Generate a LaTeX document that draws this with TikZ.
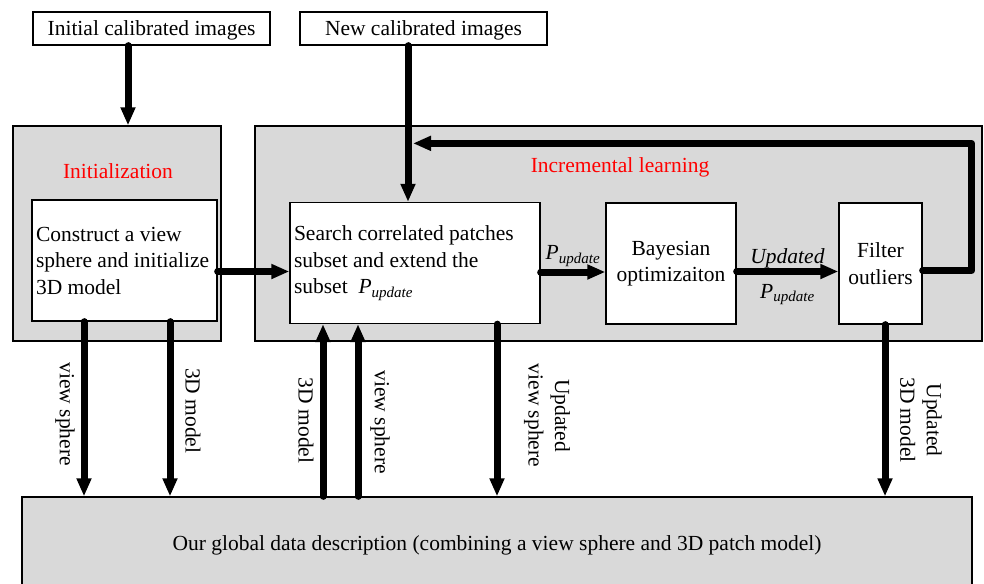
\documentclass[tikz,border=0pt]{standalone}
\usepackage{fontspec}
\setmainfont{Liberation Serif}
\usetikzlibrary{
    arrows.meta,
    calc,
    positioning,
}
\definecolor{panelgray}{RGB}{217,217,217}
\definecolor{titlered}{RGB}{255,0,0}
\newcommand{\pupd}{\textit{P}\textsubscript{\textit{update}}}

\begin{document}
\begin{tikzpicture}[
        x=1pt, y=-1pt,
        font=\fontsize{21.5}{26.5}\selectfont,
        source/.style={rectangle, draw=black, fill=white, line width=1.3pt, minimum height=33pt, inner sep=0pt, text depth=0pt},
        panel/.style={rectangle, draw=black, fill=panelgray, line width=1.3pt, minimum height=215pt},
        paneltitle/.style={text=titlered, inner sep=0pt},
        procbox/.style={rectangle, draw=black, fill=white, line width=1.3pt, minimum height=121pt, inner sep=0pt},
        leftbox/.style={procbox, align=flush left, inner xsep=4pt},
        flow/.style={line width=7pt, line cap=round, line join=round, -{Triangle[length=18pt,width=14pt]}},
        vlabel/.style={rotate=-90, align=center, inner sep=0pt},
        hlabel/.style={inner sep=2pt}
        ]
        \useasboundingbox (0,0) rectangle (984,583);
        \node[source, minimum width=237pt] (initimg) at (151.5,28.5) {Initial calibrated images};
        \node[source, minimum width=247pt] (newimg)  at (423.5,28.5) {New calibrated images};
        \node[panel, minimum width=208pt]  (init)    at (117,233.5)  {};
        \node[panel, minimum width=727pt]  (incr)    at (618.5,233.5) {};
        \node[paneltitle] (inittitle) at (118,171) {Initialization};
        \node[paneltitle] (incrtitle) at (620,167) {Incremental learning};
        \node[leftbox, minimum width=185pt, text width=177pt] (construct) at (124.5,260.5)
            {Construct a view\\sphere and initialize\\3D model};
        \node[leftbox, minimum width=250pt, text width=242pt] (search) at (415,263)
            {Search correlated patches\\subset and extend the\\subset\enspace\pupd};
        \node[procbox, minimum width=130pt, align=center] (bayes)  at (671,263.5)   {Bayesian\\optimizaiton};
        \node[procbox, minimum width=83pt, align=center]  (filter) at (880.5,263.5) {Filter\\outliers};
        \node[panel, minimum width=950pt, minimum height=96pt] (global) at (497,545)
            {Our global data description (combining a view sphere and 3D patch model)};
        \coordinate (fbcorner) at ([xshift=-11pt,yshift=-18pt]incr.north east);
        \coordinate (feedin)   at ([xshift=-10.5pt]newimg.south);
        % inputs and feedback
        \draw[flow] ([xshift=-23.5pt]initimg.south) -- ([xshift=-23.5pt]initimg.south |- init.north);
        \draw[flow] ([xshift=-15.5pt]newimg.south) -- ([xshift=-15.5pt]newimg.south |- search.north);
        \draw[flow] ([yshift=-7pt]filter.east) -| (fbcorner) -- (fbcorner -| feedin);
        % main chain
        \draw[flow] ([yshift=-11pt]construct.east) -- ([yshift=-11pt]construct.east -| search.west);
        \draw[flow] ([yshift=-9pt]search.east) -- ([yshift=-9pt]search.east -| bayes.west)
            node[midway, above=0pt, hlabel] {\pupd};
        \draw[flow] ([yshift=-8pt]bayes.east) -- ([yshift=-8pt]bayes.east -| filter.west)
            node[midway, above=-2pt, hlabel] {\textit{Updated}}
            node[midway, below=7pt, hlabel] {\pupd};
        % exchange with the global description
        \draw[flow] ([xshift=-40.5pt]construct.south) -- ([xshift=-40.5pt]construct.south |- global.north)
            node[pos=.53, xshift=-19pt, vlabel] {view sphere};
        \draw[flow] ([xshift=45.5pt]construct.south) -- ([xshift=45.5pt]construct.south |- global.north)
            node[pos=.51, xshift=23pt, vlabel] {3D model};
        \draw[flow] ([xshift=-92pt]search.south |- global.north) -- ([xshift=-92pt]search.south)
            node[pos=.44, xshift=-17pt, vlabel] {3D model};
        \draw[flow] ([xshift=-57pt]search.south |- global.north) -- ([xshift=-57pt]search.south)
            node[pos=.43, xshift=22pt, vlabel] {view sphere};
        \draw[flow] ([xshift=82pt]search.south) -- ([xshift=82pt]search.south |- global.north)
            node[pos=.53, xshift=50pt, vlabel] {Updated\\view sphere};
        \draw[flow] ([xshift=4.5pt]filter.south) -- ([xshift=4.5pt]filter.south |- global.north)
            node[pos=.555, xshift=36pt, vlabel] {Updated\\3D model};
    \end{tikzpicture}
\end{document}
